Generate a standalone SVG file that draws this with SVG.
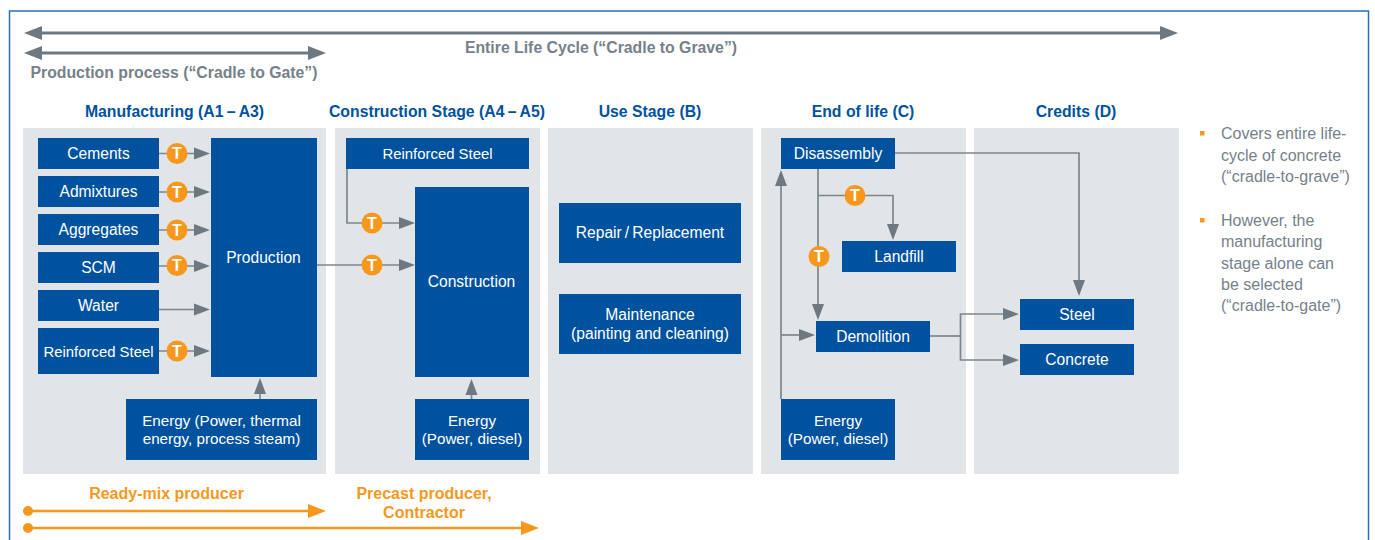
<svg xmlns="http://www.w3.org/2000/svg" width="1375" height="540" viewBox="0 0 1375 540">
<style>
text{font-family:"Liberation Sans",Arial,sans-serif;font-size:15.6px}
.panel{fill:#e1e5e8}
.box{fill:#00529f}
.lbl{fill:#fff;text-anchor:middle}
.sm{font-size:14.9px}
.md{font-size:15.2px}
.hd{fill:#00529f;font-weight:bold;text-anchor:middle;font-size:15.8px}
.gr{fill:#76818a;font-weight:bold;text-anchor:middle;font-size:15.8px}
.or{fill:#f7981d;font-weight:bold;text-anchor:middle;font-size:16px}
.note{fill:#76818a;font-size:16px}
.c{fill:none;stroke:#7b868d;stroke-width:1.7}
.c2{fill:none;stroke:#6d7880;stroke-width:3}
.c3{fill:none;stroke:#f7981d;stroke-width:2.6}
.a{marker-end:url(#ah)}
.tc{fill:#f7981d}
.tt{fill:#fff;font-weight:bold;font-size:16px;text-anchor:middle}
</style>
<defs>
<marker id="ah" markerUnits="userSpaceOnUse" markerWidth="17" markerHeight="13" refX="1" refY="6.5" orient="auto"><path d="M0 0.5L16 6.5L0 12.500z" fill="#6d7880"/></marker>
<marker id="bh" markerUnits="userSpaceOnUse" markerWidth="19" markerHeight="15" refX="1" refY="7" orient="auto"><path d="M0 0L18 7L0 14z" fill="#6d7880"/></marker>
<marker id="bs" markerUnits="userSpaceOnUse" markerWidth="19" markerHeight="15" refX="1" refY="7" orient="auto-start-reverse"><path d="M0 0L18 7L0 14z" fill="#6d7880"/></marker>
<marker id="oh" markerUnits="userSpaceOnUse" markerWidth="19" markerHeight="15" refX="1" refY="7" orient="auto"><path d="M0 0L18 7L0 14z" fill="#f7981d"/></marker>
</defs>
<rect width="1375" height="540" fill="#fff"/>
<rect x="9.5" y="11" width="1359" height="545" fill="none" stroke="#2a6db5" stroke-width="1.5"/>

<g id="panels">
<rect class="panel" x="23" y="128" width="303" height="346"/>
<rect class="panel" x="335" y="128" width="205" height="346"/>
<rect class="panel" x="548" y="128" width="205" height="346"/>
<rect class="panel" x="761" y="128" width="205" height="346"/>
<rect class="panel" x="974" y="128" width="205" height="346"/>
</g>

<g id="headings">
<text class="gr" x="601" y="53">Entire Life Cycle (“Cradle to Grave”)</text>
<text class="gr" x="174" y="78">Production process (“Cradle to Gate”)</text>
<text class="hd" x="174.500" y="117">Manufacturing (A1&#8201;–&#8201;A3)</text>
<text class="hd" x="437" y="117">Construction Stage (A4&#8201;–&#8201;A5)</text>
<text class="hd" x="650" y="117">Use Stage (B)</text>
<text class="hd" x="863" y="117">End of life (C)</text>
<text class="hd" x="1076" y="117">Credits (D)</text>
</g>

<g id="connectors">
<path class="c2" d="M41 33H1161" marker-start="url(#bs)" marker-end="url(#bh)"/>
<path class="c2" d="M41 53H309" marker-start="url(#bs)" marker-end="url(#bh)"/>
<path class="c a" d="M159 153.500H195"/>
<path class="c a" d="M159 192H195"/>
<path class="c a" d="M159 230H195"/>
<path class="c a" d="M159 266H195"/>
<path class="c a" d="M159 309.500H195"/>
<path class="c a" d="M159 351H195"/>
<path class="c a" d="M260 399V393"/>
<path class="c a" d="M317 265H400"/>
<path class="c a" d="M347 169V223H400"/>
<path class="c a" d="M471.500 399V394"/>
<path class="c a" d="M895 153H1079V281"/>
<path class="c a" d="M818 169V305"/>
<path class="c a" d="M818 195.500H893V225"/>
<path class="c a" d="M781 399V185"/>
<path class="c a" d="M781 335H800"/>
<path class="c" d="M930 336H960.500"/>
<path class="c a" d="M960.500 336V314H1004"/>
<path class="c a" d="M960.500 336V360H1004"/>
<path class="c3" d="M27 511H309" marker-end="url(#oh)"/>
<path class="c3" d="M28 528H522" marker-end="url(#oh)"/>
<circle class="tc" cx="28" cy="511" r="5"/>
<circle class="tc" cx="28" cy="528" r="5"/>
</g>

<g id="cements"><rect class="box" x="38" y="138" width="121" height="31"/><text class="lbl" x="98.500" y="159.400">Cements</text></g>
<g id="admixtures"><rect class="box" x="38" y="176" width="121" height="31"/><text class="lbl" x="98.500" y="197.400">Admixtures</text></g>
<g id="aggregates"><rect class="box" x="38" y="214" width="121" height="31"/><text class="lbl" x="98.500" y="235.400">Aggregates</text></g>
<g id="scm"><rect class="box" x="38" y="252" width="121" height="31"/><text class="lbl" x="98.500" y="273.400">SCM</text></g>
<g id="water"><rect class="box" x="38" y="290" width="121" height="31"/><text class="lbl" x="98.500" y="311.400">Water</text></g>
<g id="steel-a"><rect class="box" x="38" y="328" width="121" height="46"/><text class="lbl sm" x="98.500" y="357">Reinforced Steel</text></g>
<g id="production"><rect class="box" x="211" y="138" width="106" height="239"/><text class="lbl" x="263.500" y="263.400">Production</text></g>
<g id="energy-a"><rect class="box" x="126" y="399" width="191" height="61"/><text class="lbl md" x="221.500" y="426">Energy (Power, thermal</text><text class="lbl md" x="221.500" y="444">energy, process steam)</text></g>
<g id="steel-b"><rect class="box" x="346" y="138" width="183" height="31"/><text class="lbl sm" x="437.500" y="159">Reinforced Steel</text></g>
<g id="construction"><rect class="box" x="415" y="187" width="114" height="190"/><text class="lbl" x="471.500" y="287.400">Construction</text></g>
<g id="energy-b"><rect class="box" x="415" y="399" width="114" height="61"/><text class="lbl md" x="472" y="426">Energy</text><text class="lbl md" x="472" y="444">(Power, diesel)</text></g>
<g id="repair"><rect class="box" x="559" y="203" width="182" height="60"/><text class="lbl" x="650" y="238.400">Repair&#8201;/&#8201;Replacement</text></g>
<g id="maintenance"><rect class="box" x="559" y="294" width="182" height="60"/><text class="lbl" x="650" y="320.400">Maintenance</text><text class="lbl" x="650" y="339.400">(painting and cleaning)</text></g>
<g id="disassembly"><rect class="box" x="781" y="138" width="114" height="31"/><text class="lbl" x="838" y="159.400">Disassembly</text></g>
<g id="landfill"><rect class="box" x="842" y="241" width="114" height="31"/><text class="lbl" x="899" y="262.400">Landfill</text></g>
<g id="demolition"><rect class="box" x="816" y="321" width="114" height="31"/><text class="lbl" x="873" y="342.400">Demolition</text></g>
<g id="energy-c"><rect class="box" x="781" y="399" width="114" height="61"/><text class="lbl md" x="838" y="426">Energy</text><text class="lbl md" x="838" y="444">(Power, diesel)</text></g>
<g id="steel-d"><rect class="box" x="1020" y="299" width="114" height="31"/><text class="lbl" x="1077" y="320.400">Steel</text></g>
<g id="concrete-d"><rect class="box" x="1020" y="344" width="114" height="31"/><text class="lbl" x="1077" y="365.400">Concrete</text></g>

<g id="transport">
<circle class="tc" cx="177" cy="153.500" r="10.500"/><text class="tt" x="177" y="159">T</text>
<circle class="tc" cx="177" cy="192" r="10.500"/><text class="tt" x="177" y="197.500">T</text>
<circle class="tc" cx="177" cy="230" r="10.500"/><text class="tt" x="177" y="235.500">T</text>
<circle class="tc" cx="177" cy="265.500" r="10.500"/><text class="tt" x="177" y="271">T</text>
<circle class="tc" cx="177" cy="351" r="10.500"/><text class="tt" x="177" y="356.500">T</text>
<circle class="tc" cx="372" cy="223" r="10.500"/><text class="tt" x="372" y="228.500">T</text>
<circle class="tc" cx="372" cy="265" r="10.500"/><text class="tt" x="372" y="270.500">T</text>
<circle class="tc" cx="855" cy="195.500" r="10.500"/><text class="tt" x="855" y="201">T</text>
<circle class="tc" cx="819" cy="256.500" r="10.500"/><text class="tt" x="819" y="262">T</text>
</g>

<g id="actors">
<text class="or" x="166.500" y="499">Ready-mix producer</text>
<text class="or" x="424" y="499">Precast producer,</text>
<text class="or" x="424" y="518">Contractor</text>
</g>

<g id="notes">
<rect class="tc" x="1200" y="131" width="4.500" height="4.500"/>
<rect class="tc" x="1200" y="218" width="4.500" height="4.500"/>
<text class="note" x="1221" y="139">Covers entire life-</text>
<text class="note" x="1221" y="161">cycle of concrete</text>
<text class="note" x="1221" y="182">(“cradle-to-grave”)</text>
<text class="note" x="1221" y="226">However, the</text>
<text class="note" x="1221" y="247">manufacturing</text>
<text class="note" x="1221" y="269">stage alone can</text>
<text class="note" x="1221" y="290">be selected</text>
<text class="note" x="1221" y="311">(“cradle-to-gate”)</text>
</g>
</svg>
